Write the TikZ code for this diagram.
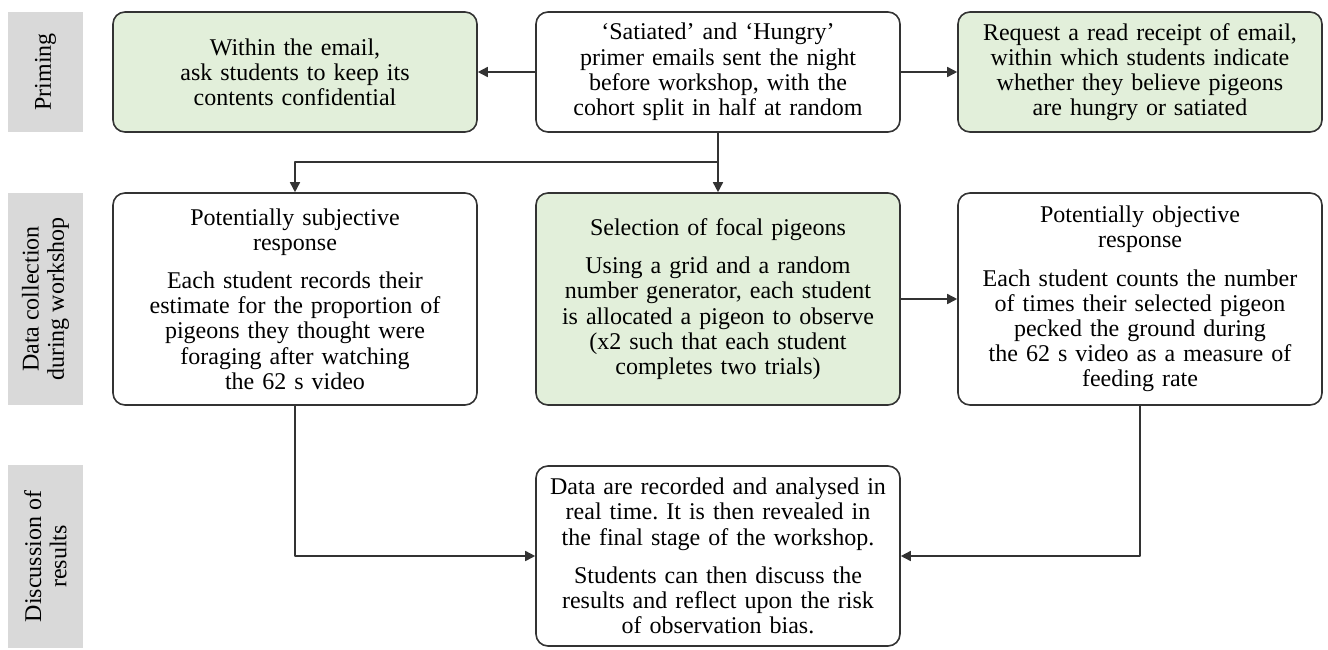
\documentclass[tikz,border=0pt]{standalone}
\usepackage{fontspec}
\setmainfont{Liberation Serif}
\usetikzlibrary{arrows.meta}
\definecolor{boxgreen}{HTML}{E2EFDA}
\definecolor{stagegray}{HTML}{D9D9D9}
\definecolor{edgegray}{HTML}{333333}
\begin{document}
\begin{tikzpicture}[x=0.5pt,y=-0.5pt,>={Triangle[length=5pt,width=5pt]},
		font=\fontsize{12}{12.6}\selectfont\frenchspacing, line join=round,
		stage/.style={fill=stagegray,rotate=90,minimum width=#1,minimum height=37.5pt,
			inner sep=0pt,align=center},
		card/.style={draw=edgegray,line width=0.8pt,rounded corners=6pt,inner sep=0pt,
			minimum width=182pt,minimum height=#1,text width=176pt,align=center},
		link/.style={->,draw=edgegray,line width=0.8pt}]
	\useasboundingbox (0,0) rectangle (1328,649);
	% stage labels
	\node[stage=60pt] (lprim) at (45.5,72) {Priming};
	\node[stage=106pt] (ldata) at (45.5,299) {Data collection\\during workshop};
	\node[stage=91.5pt] (ldisc) at (45.5,556.5) {Discussion of\\results};
	% priming row
	\node[card=60pt,fill=boxgreen] (email) at (295,72)
		{Within the email,\\ask students to keep its\\contents confidential};
	\node[card=60pt] (primer) at (718,72)
		{‘Satiated’ and ‘Hungry’\\primer emails sent the night\\before workshop, with the\\cohort split in half at random};
	\node[card=60pt,fill=boxgreen] (receipt) at (1140,72)
		{Request a read receipt of email,\\within which students indicate\\whether they believe pigeons\\are hungry or satiated};
	% data collection row
	\node[card=106pt] (subj) at (295,299)
		{Potentially subjective\\response\\[6.5pt]Each student records their\\estimate for the proportion of\\pigeons they thought were\\foraging after watching\\the 62 s video};
	\node[card=106pt,fill=boxgreen] (focal) at (718,299)
		{Selection of focal pigeons\\[6.5pt]Using a grid and a random\\number generator, each student\\is allocated a pigeon to observe\\(x2 such that each student\\completes two trials)};
	\node[card=106pt] (obj) at (1140,299)
		{Potentially objective\\response\\[6.5pt]Each student counts the number\\of times their selected pigeon\\pecked the ground during\\the 62 s video as a measure of\\feeding rate};
	% discussion
	\node[card=90pt] (results) at (718,556)
		{Data are recorded and analysed in\\real time. It is then revealed in\\the final stage of the workshop.\\[6.5pt]Students can then discuss the\\results and reflect upon the risk\\of observation bias.};
	% connectors
	\coordinate (split) at (718,162);
	\draw[link] (primer) -- (email);
	\draw[link] (primer) -- (receipt);
	\draw[link] (primer) -- (focal);
	\draw[link] (split) -| (subj.north);
	\draw[link] (focal) -- (obj);
	\draw[link] (subj.south) |- (results.west);
	\draw[link] (obj.south) |- (results.east);
\end{tikzpicture}
\end{document}
